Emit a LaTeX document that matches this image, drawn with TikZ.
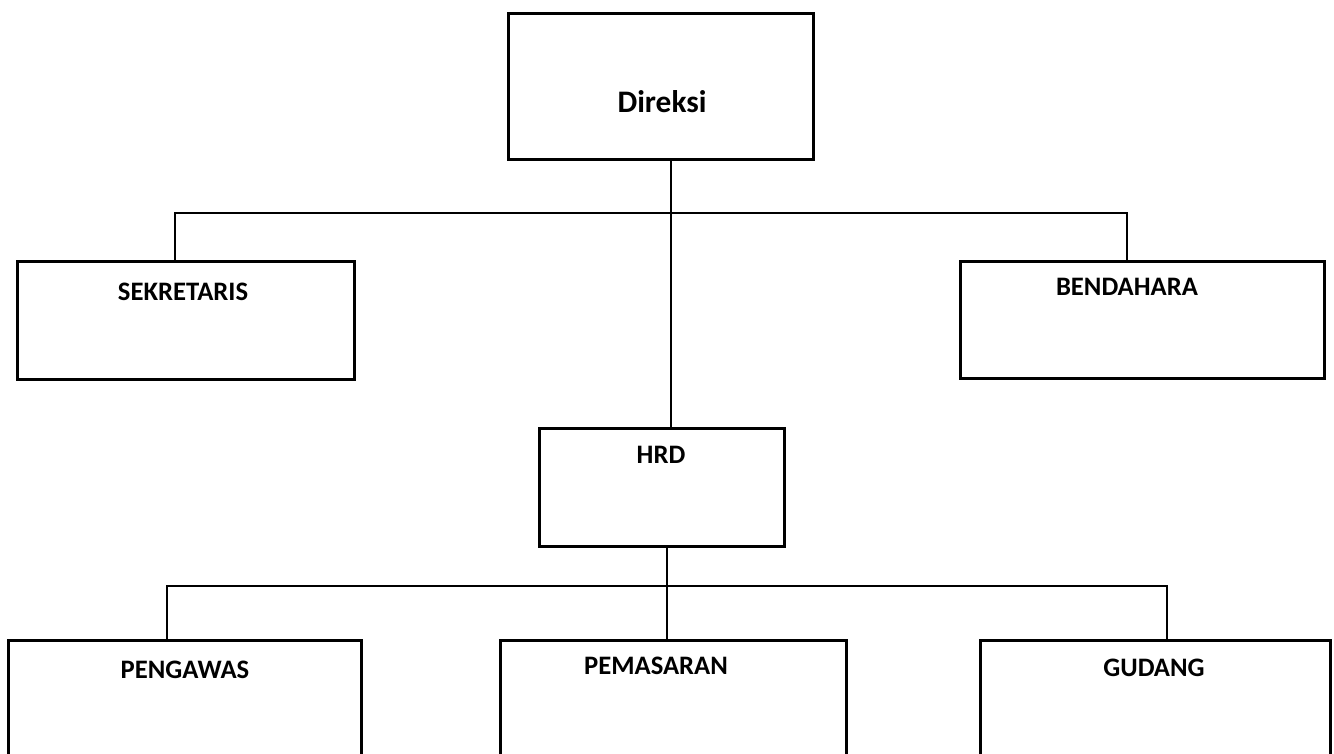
\documentclass[tikz,border=0pt]{standalone}
\usepackage{fontspec}
\setmainfont{Carlito}
\begin{document}
\begin{tikzpicture}[x=0.75pt,y=-0.75pt,
  box/.style={draw, line width=2pt, inner sep=0pt, anchor=north west},
  lbl/.style={font=\bfseries\fontsize{20}{22}\selectfont, inner sep=0pt},
  big/.style={font=\bfseries\fontsize{23.5}{26}\selectfont, inner sep=0pt},
  conn/.style={line width=1.6pt}]
\useasboundingbox (0,0) rectangle (1334,753);
\clip (0,0) rectangle (1334,753);
% boxes
\node[box, minimum width=305*0.75pt, minimum height=146*0.75pt] (dir) at (507,12) {};
\node[box, minimum width=337*0.75pt, minimum height=118*0.75pt] (sek) at (16,260) {};
\node[box, minimum width=364*0.75pt, minimum height=117*0.75pt] (ben) at (959,260) {};
\node[box, minimum width=245*0.75pt, minimum height=118*0.75pt] (hrd) at (538,427) {};
\node[box, minimum width=353*0.75pt, minimum height=140*0.75pt] (pen) at (7,639) {};
\node[box, minimum width=346*0.75pt, minimum height=140*0.75pt] (pem) at (499,639) {};
\node[box, minimum width=350*0.75pt, minimum height=140*0.75pt] (gud) at (979,639) {};
% labels
\node[big] (tdir) at (662,102) {Direksi};
\node[lbl] (tsek) at (183,292) {SEKRETARIS};
\node[lbl] (tben) at (1127,287) {BENDAHARA};
\node[lbl] (thrd) at (661,455) {HRD};
\node[lbl] (tpen) at (185,670) {PENGAWAS};
\node[lbl] (tpem) at (656,666) {PEMASARAN};
\node[lbl] (tgud) at (1154,668) {GUDANG};
% connector coordinates
\coordinate (c1) at (671,213);
\coordinate (jl) at (175,213);
\coordinate (jr) at (1127,213);
\coordinate (c2) at (667,586);
\coordinate (kl) at (167,586);
\coordinate (kr) at (1167,586);
% connectors
\draw[conn] (c1 |- dir.south) -- (c1 |- hrd.north);
\draw[conn] (jl |- sek.north) -- (jl) -- (jr) -- (jr |- ben.north);
\draw[conn] (c2 |- hrd.south) -- (c2 |- pem.north);
\draw[conn] (kl |- pen.north) -- (kl) -- (kr) -- (kr |- gud.north);
\end{tikzpicture}
\end{document}
